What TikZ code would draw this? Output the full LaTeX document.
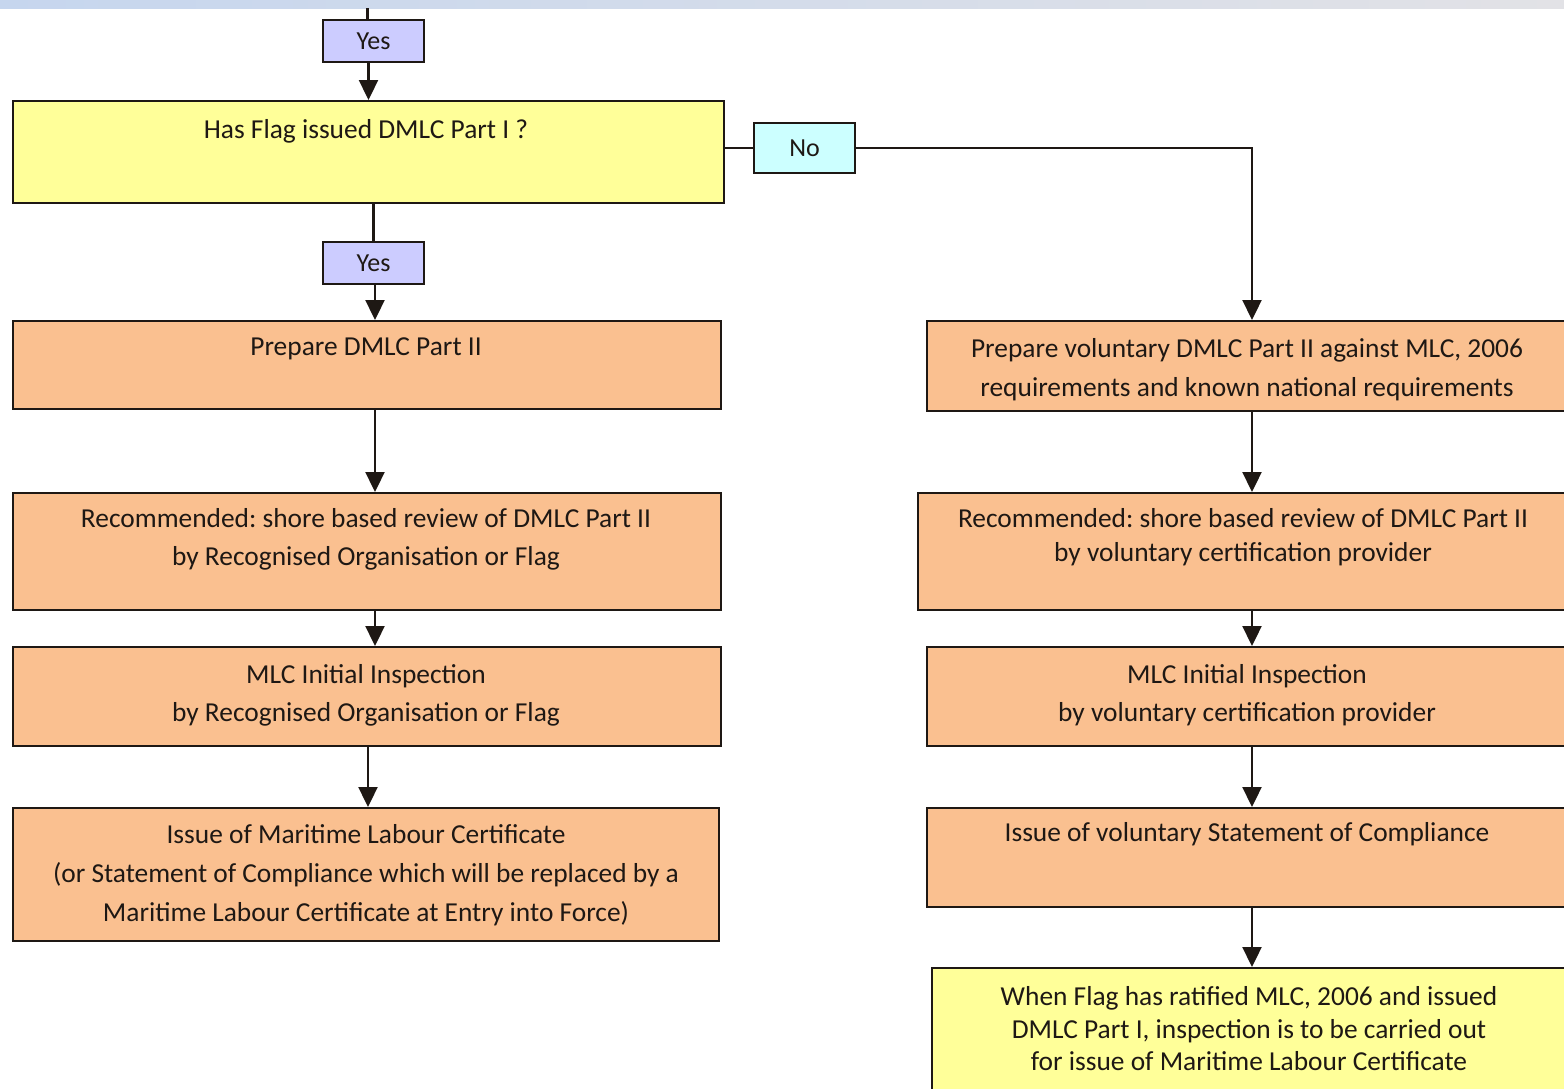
\documentclass[tikz,border=0pt]{standalone}
\usepackage{fontspec}
\setmainfont{Carlito}
\usetikzlibrary{arrows.meta}
\frenchspacing
\definecolor{orng}{RGB}{250,192,144}
\definecolor{yel}{RGB}{255,255,153}
\definecolor{lav}{RGB}{204,204,255}
\definecolor{cyn}{RGB}{204,255,255}
\definecolor{ink}{RGB}{30,24,20}
\definecolor{bandl}{RGB}{198,214,238}
\definecolor{bandr}{RGB}{226,226,230}
\begin{document}
\frenchspacing
\begin{tikzpicture}[x=1pt,y=-1pt,
  box/.style={draw=ink, line width=2pt, inner sep=0pt, anchor=north west},
  tag/.style={draw=ink, line width=1.8pt, inner sep=0pt, font=\fontsize{26}{30}\selectfont, text=ink},
  txt/.style={anchor=north, inner sep=0pt, align=center, text=ink},
  ln/.style={draw=ink, line width=2.3pt},
  arr/.style={draw=ink, line width=2.3pt, -{Triangle[length=20pt,width=19pt]}}]
\useasboundingbox (0,0) rectangle (1564,1088);
\clip (0,0) rectangle (1564,1088);
\fill[left color=bandl, right color=bandr] (0,0) rectangle (1564,8);

% tags
\node[tag, fill=lav, minimum width=101pt, minimum height=42pt] (yes1) at (373.5,41) {Yes};
\node[tag, fill=lav, minimum width=101pt, minimum height=42pt] (yes2) at (373.5,263) {Yes};
\node[tag, fill=cyn, minimum width=101pt, minimum height=50pt] (no) at (804.5,148) {No};

% left column
\node[box, fill=yel, minimum width=711pt, minimum height=102pt] (dec) at (12,100) {};
\node[box, fill=orng, minimum width=708pt, minimum height=88pt] (l1) at (12,320) {};
\node[box, fill=orng, minimum width=708pt, minimum height=117pt] (l2) at (12,492) {};
\node[box, fill=orng, minimum width=708pt, minimum height=99pt] (l3) at (12,646) {};
\node[box, fill=orng, minimum width=706pt, minimum height=133pt] (l4) at (12,807) {};

% right column
\node[box, fill=orng, minimum width=650pt, minimum height=90pt] (r1) at (926,320) {};
\node[box, fill=orng, minimum width=660pt, minimum height=117pt] (r2) at (917,492) {};
\node[box, fill=orng, minimum width=650pt, minimum height=99pt] (r3) at (926,646) {};
\node[box, fill=orng, minimum width=650pt, minimum height=99pt] (r4) at (926,807) {};
\node[box, fill=yel, minimum width=650pt, minimum height=140pt] (r5) at (931,967) {};

% texts
\node[txt, font=\fontsize{27.4}{38}\selectfont] (dect) at (366,111.9) {\strut Has Flag issued DMLC Part I ?};
\node[txt, font=\fontsize{27.4}{38}\selectfont] (l1t) at (366,328.9) {\strut Prepare DMLC Part II};
\node[txt, font=\fontsize{27.4}{38}\selectfont] (l2t) at (366,500.9) {\strut Recommended: shore based review of DMLC Part II\\\strut by Recognised Organisation or Flag};
\node[txt, font=\fontsize{27.4}{38}\selectfont] (l3t) at (366,656.9) {\strut MLC Initial Inspection\\\strut by Recognised Organisation or Flag};
\node[txt, font=\fontsize{27.4}{39}\selectfont] (l4t) at (366,816.2) {\strut Issue of Maritime Labour Certificate\\\strut (or Statement of Compliance which will be replaced by a\\\strut Maritime Labour Certificate at Entry into Force)};
\node[txt, font=\fontsize{27.4}{39}\selectfont] (r1t) at (1247,330.2) {\strut Prepare voluntary DMLC Part II against MLC, 2006\\\strut requirements and known national requirements};
\node[txt, font=\fontsize{27.4}{34}\selectfont] (r2t) at (1243,503.7) {\strut Recommended: shore based review of DMLC Part II\\\strut by voluntary certification provider};
\node[txt, font=\fontsize{27.4}{38}\selectfont] (r3t) at (1247,656.9) {\strut MLC Initial Inspection\\\strut by voluntary certification provider};
\node[txt, font=\fontsize{27.4}{38}\selectfont] (r4t) at (1247,814.9) {\strut Issue of voluntary Statement of Compliance};
\node[txt, font=\fontsize{27.4}{32.5}\selectfont] (r5t) at (1249,982.75) {\strut When Flag has ratified MLC, 2006 and issued\\\strut DMLC Part I, inspection is to be carried out\\\strut for issue of Maritime Labour Certificate};

% connectors
\coordinate (t0) at (367.5,8);
\coordinate (rc) at (1252,148);
\draw[ln] (t0) -- (t0 |- yes1.north);
\draw[arr] (yes1.south -| dec.north) -- (dec.north);
\draw[ln] (yes2.north |- dec.south) -- (yes2.north);
\draw[arr] (yes2.south -| 375,0) -- (l1.north -| 375,0);
\draw[arr] (l1.south -| 375,0) -- (l2.north -| 375,0);
\draw[arr] (l2.south -| 375,0) -- (l3.north -| 375,0);
\draw[arr] (l3.south -| 368,0) -- (l4.north -| 368,0);
\draw[ln] (dec.east |- no.west) -- (no.west);
\draw[arr] (no.east) -- (rc) -- (rc |- r1.north);
\draw[arr] (rc |- r1.south) -- (rc |- r2.north);
\draw[arr] (rc |- r2.south) -- (rc |- r3.north);
\draw[arr] (rc |- r3.south) -- (rc |- r4.north);
\draw[arr] (rc |- r4.south) -- (rc |- r5.north);
\end{tikzpicture}
\end{document}
